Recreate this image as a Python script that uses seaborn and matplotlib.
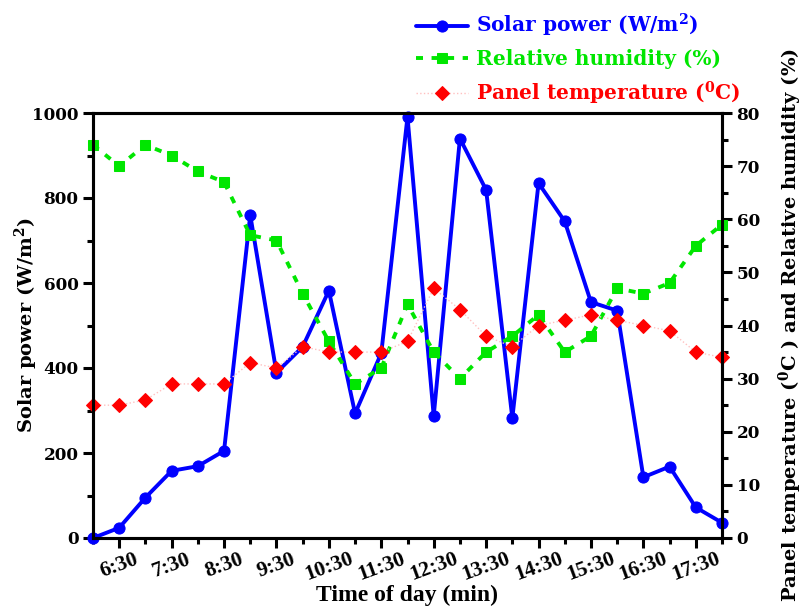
import matplotlib
matplotlib.use('Agg')
import matplotlib.pyplot as plt
import seaborn as sns
import numpy as np
import pandas as pd
from matplotlib.ticker import MultipleLocator, FixedLocator

# ---- data ----
times = ['6:00', '6:30', '7:00', '7:30', '8:00', '8:30', '9:00', '9:30', '10:00',
         '10:30', '11:00', '11:30', '12:00', '12:30', '13:00', '13:30', '14:00',
         '14:30', '15:00', '15:30', '16:00', '16:30', '17:00', '17:30', '18:00']
solar_power = [0, 24, 95, 158, 169, 205, 760, 389, 450, 582, 293, 435, 991, 287,
               940, 819, 282, 835, 745, 555, 535, 143, 168, 72, 36]
humidity = [74, 70, 74, 72, 69, 67, 57, 56, 46, 37, 29, 32, 44, 35,
            30, 35, 38, 42, 35, 38, 47, 46, 48, 55, 59]
panel_temp = [25, 25, 26, 29, 29, 29, 33, 32, 36, 35, 35, 35, 37, 47,
              43, 38, 36, 40, 41, 42, 41, 40, 39, 35, 34]

df = pd.DataFrame({'idx': np.arange(len(times)), 'time': times,
                   'solar': solar_power, 'hum': humidity, 'temp': panel_temp})

sns.set_style('ticks')
plt.rcParams['font.family'] = ['DejaVu Serif']
plt.rcParams['font.weight'] = 'bold'
plt.rcParams['axes.labelweight'] = 'bold'
plt.rcParams['text.color'] = 'black'
plt.rcParams['axes.labelcolor'] = 'black'
plt.rcParams['xtick.color'] = 'black'
plt.rcParams['ytick.color'] = 'black'
plt.rcParams['mathtext.fontset'] = 'custom'
plt.rcParams['mathtext.rm'] = 'DejaVu Serif:bold'
plt.rcParams['mathtext.bf'] = 'DejaVu Serif:bold'
plt.rcParams['mathtext.default'] = 'bf'

BLUE = '#0000ff'
GREEN = '#00e600'
RED = '#ff0000'

fig = plt.figure(figsize=(8.06, 6.10), dpi=100)
ax = fig.add_axes([93/806, 1-538/610, (722-93)/806, (538-113)/610])
ax2 = ax.twinx()

sns.lineplot(data=df, x='idx', y='solar', ax=ax, color=BLUE, lw=2.8,
             marker='o', markersize=8, markeredgecolor=BLUE, markerfacecolor=BLUE,
             clip_on=False, legend=False)
sns.lineplot(data=df, x='idx', y='hum', ax=ax2, color=GREEN, lw=2.8,
             linestyle=(0, (1.8, 2.2)), marker='s', markersize=7.5,
             markeredgecolor=GREEN, markerfacecolor=GREEN, clip_on=False, legend=False)
sns.lineplot(data=df, x='idx', y='temp', ax=ax2, color='#ffc0c0', lw=1.0,
             linestyle=':', marker='D', markersize=7.5,
             markeredgecolor=RED, markerfacecolor=RED, clip_on=False, legend=False)

ax.set_xlim(0, len(times) - 1)
ax.set_ylim(0, 1000)
ax2.set_ylim(0, 80)

# x ticks: labels at odd positions
major_pos = [i for i in range(len(times)) if i % 2 == 1]
minor_pos = [i for i in range(len(times)) if i % 2 == 0]
ax.xaxis.set_major_locator(FixedLocator(major_pos))
ax.xaxis.set_minor_locator(FixedLocator(minor_pos))
ax.set_xticklabels([times[i] for i in major_pos], rotation=20, ha='center',
                   fontfamily='Liberation Serif', fontsize=15.5, fontweight='bold')

ax.yaxis.set_major_locator(MultipleLocator(200))
ax.yaxis.set_minor_locator(MultipleLocator(100))
ax2.yaxis.set_major_locator(MultipleLocator(10))
ax2.yaxis.set_minor_locator(MultipleLocator(5))

for a in (ax, ax2):
    for s in a.spines.values():
        s.set_linewidth(2.2)
        s.set_color('black')
    a.tick_params(which='major', direction='out', length=7, width=2.2, colors='black')
    a.tick_params(which='minor', direction='out', length=4, width=2.2, colors='black')
ax.tick_params(axis='y', labelsize=12.2)
ax2.tick_params(axis='y', labelsize=12.2)
ax.tick_params(axis='x', which='both', pad=1)
for lab in ax.get_yticklabels() + ax2.get_yticklabels():
    lab.set_fontweight('bold')

ax.set_xlabel('Time of day (min)', fontfamily='Liberation Serif', fontsize=17,
              fontweight='bold', labelpad=0)
ax.set_ylabel('Solar power (W/m$^{2}$)', fontsize=14, fontweight='bold')
ax.yaxis.set_label_coords(-0.084, 0.5)
ax2.set_ylabel('Panel temperature ($^{0}$C ) and Relative humidity (%)',
               fontsize=14, fontweight='bold', labelpad=12)

handles = [ax.get_lines()[0], ax2.get_lines()[0], ax2.get_lines()[1]]
labels = ['Solar power (W/m$^{2}$)', 'Relative humidity (%)', 'Panel temperature ($^{0}$C)']
leg = fig.legend(handles, labels, loc='upper left', bbox_to_anchor=(416/806, 1-12/610),
                 frameon=False, prop={'weight': 'bold', 'size': 14.5, 'family': 'DejaVu Serif'},
                 handlelength=2.6, handletextpad=0.4, labelspacing=0.5,
                 borderpad=0, borderaxespad=0, numpoints=1)
for t, c in zip(leg.get_texts(), [BLUE, GREEN, RED]):
    t.set_color(c)

fig.savefig('out.png', dpi=100)
